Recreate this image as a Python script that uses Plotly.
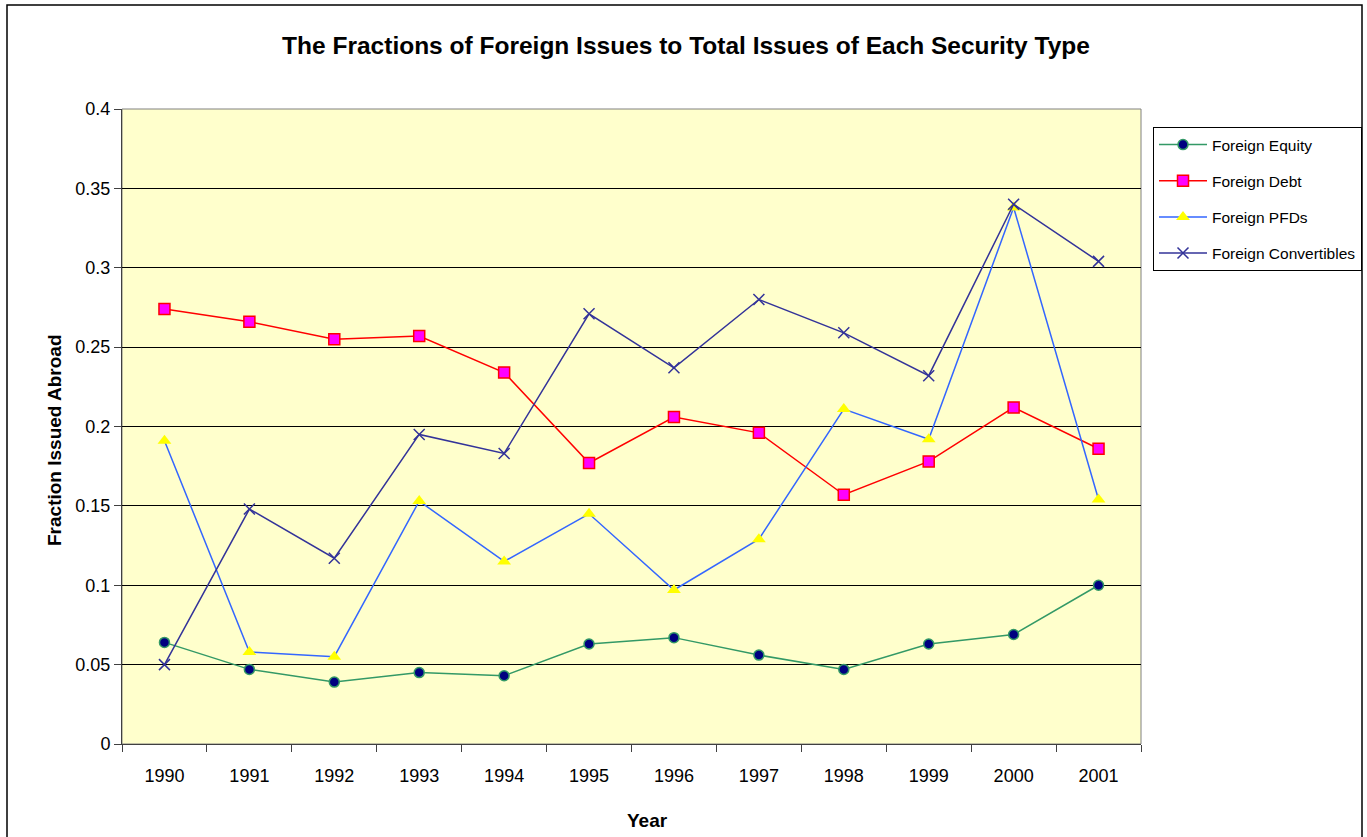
import plotly.graph_objects as go

years = ["1990", "1991", "1992", "1993", "1994", "1995", "1996", "1997", "1998", "1999", "2000", "2001"]
equity = [0.064, 0.047, 0.039, 0.045, 0.043, 0.063, 0.067, 0.056, 0.047, 0.063, 0.069, 0.100]
debt = [0.274, 0.266, 0.255, 0.257, 0.234, 0.177, 0.206, 0.196, 0.157, 0.178, 0.212, 0.186]
pfds = [0.191, 0.058, 0.055, 0.153, 0.115, 0.145, 0.097, 0.129, 0.211, 0.192, 0.338, 0.154]
convertibles = [0.050, 0.148, 0.117, 0.195, 0.183, 0.271, 0.237, 0.280, 0.259, 0.232, 0.340, 0.304]
y_ticks = [0, 0.05, 0.1, 0.15, 0.2, 0.25, 0.3, 0.35, 0.4]
y_tick_text = ["0", "0.05", "0.1", "0.15", "0.2", "0.25", "0.3", "0.35", "0.4"]

W, H = 1367, 837
L, R, T, B = 122, 1141, 109, 744
pw, ph = R - L, B - T

def px_x(p):
    return (p - L) / pw

def px_y(p):
    return (B - p) / ph

fig = go.Figure()
fig.add_trace(go.Scatter(x=years, y=equity, name="Foreign Equity", mode="lines+markers",
                         legendgroup="a",
                         line=dict(color="#339966", width=1.5),
                         marker=dict(symbol="circle", size=10, color="#000080",
                                     line=dict(color="#339966", width=1.5))))
fig.add_trace(go.Scatter(x=years, y=debt, name="Foreign Debt", mode="lines+markers",
                         legendgroup="b",
                         line=dict(color="#FF0000", width=1.5),
                         marker=dict(symbol="square", size=11, color="#FF00FF",
                                     line=dict(color="#FF0000", width=1.5))))
fig.add_trace(go.Scatter(x=years, y=pfds, name="Foreign PFDs", mode="lines+markers",
                         legendgroup="c",
                         line=dict(color="#3366FF", width=1.5),
                         marker=dict(symbol="triangle-up", size=12, color="#FFFF00",
                                     line=dict(color="#FFFF00", width=0))))
fig.add_trace(go.Scatter(x=years, y=convertibles, name="Foreign Convertibles", mode="lines+markers",
                         legendgroup="d",
                         line=dict(color="#333399", width=1.5),
                         marker=dict(symbol="x-thin", size=11, color="#333399",
                                     line=dict(color="#333399", width=1.5))))

shapes = [
    dict(type="rect", xref="paper", yref="paper", x0=0, x1=1, y0=0, y1=1,
         line=dict(color="#808080", width=1), fillcolor="rgba(0,0,0,0)", layer="below"),
    dict(type="rect", xref="paper", yref="paper", x0=px_x(7), x1=px_x(1362),
         y0=px_y(850), y1=px_y(5), line=dict(color="#000000", width=1.5),
         fillcolor="rgba(0,0,0,0)"),
]

annotations = [
    dict(text="<b>Fraction Issued Abroad</b>", xref="paper", yref="paper",
         x=px_x(54), y=px_y(440), textangle=-90, showarrow=False,
         xanchor="center", yanchor="middle", font=dict(size=19, color="#000000")),
    dict(text="<b>Year</b>", xref="paper", yref="paper",
         x=px_x(647), y=px_y(820), showarrow=False,
         xanchor="center", yanchor="middle", font=dict(size=19, color="#000000")),
]

fig.update_layout(
    width=W, height=H,
    margin=dict(l=L, r=W - R, t=T, b=H - B, pad=0, autoexpand=False),
    paper_bgcolor="#FFFFFF",
    plot_bgcolor="#FFFFCC",
    font=dict(family="Liberation Sans, Arial, sans-serif", color="#000000"),
    title=dict(text="<b>The Fractions of Foreign Issues to Total Issues of Each Security Type</b>",
               x=686 / W, xanchor="center", y=1 - 45 / H, yanchor="middle",
               font=dict(size=24.5, color="#000000")),
    showlegend=True,
    legend=dict(x=px_x(1153), y=px_y(127), xanchor="left", yanchor="top",
                bordercolor="#000000", borderwidth=1, bgcolor="#FFFFFF",
                font=dict(size=15.5, color="#000000"), tracegroupgap=13,
                itemwidth=48),
    shapes=shapes,
    annotations=annotations,
)

fig.update_xaxes(type="category", range=[-0.5, len(years) - 0.5],
                 showgrid=False, showline=True, linecolor="#404040", linewidth=1,
                 ticks="outside", tickson="boundaries", ticklen=7, tickcolor="#404040",
                 tickfont=dict(size=18), ticklabelstandoff=15, zeroline=False)
fig.update_yaxes(range=[0, 0.4], tickvals=y_ticks, ticktext=y_tick_text,
                 showgrid=True, gridcolor="#000000", gridwidth=1,
                 showline=True, linecolor="#404040", linewidth=1,
                 ticks="outside", ticklen=7, tickcolor="#404040",
                 tickfont=dict(size=18), zeroline=False)

fig.write_html("out.html", config={"displayModeBar": False},
               post_script="document.body.style.margin='0px';document.body.style.overflow='hidden';")
